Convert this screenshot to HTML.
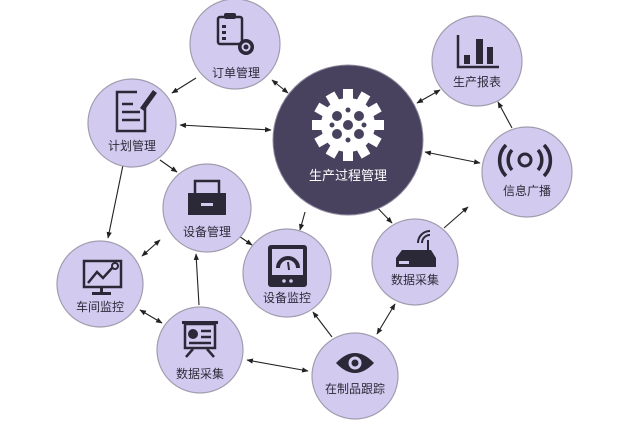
<!DOCTYPE html>
<html><head><meta charset="utf-8"><style>
html,body{margin:0;padding:0;background:#fff;}
svg{display:block;}
text{font-family:"Liberation Sans","Noto Sans CJK SC",sans-serif;font-size:12px;fill:#2e2b3a;text-anchor:middle;}
.n{fill:#d3cbef;stroke:#a19cae;stroke-width:1.2;}
.i{fill:#2b2838;}
.is{fill:none;stroke:#2b2838;stroke-width:2.5;}
.a{stroke:#222;stroke-width:1.1;fill:none;}
</style></head><body>
<svg width="640" height="427" viewBox="0 0 640 427">
<defs>
<marker id="m" viewBox="0 0 10 10" refX="9" refY="5" markerWidth="6" markerHeight="6" orient="auto-start-reverse"><path d="M0,1 L10,5 L0,9 z" fill="#222"/></marker>
</defs>
<!-- connectors -->
<line class="a" x1="196" y1="78" x2="172" y2="93" marker-end="url(#m)"/>
<line class="a" x1="272" y1="80" x2="288" y2="93" marker-start="url(#m)" marker-end="url(#m)"/>
<line class="a" x1="180" y1="125" x2="271" y2="130" marker-start="url(#m)" marker-end="url(#m)"/>
<line class="a" x1="160" y1="160" x2="177" y2="172" marker-end="url(#m)"/>
<line class="a" x1="123" y1="165" x2="108" y2="238" marker-end="url(#m)"/>
<line class="a" x1="233" y1="232" x2="252" y2="245" marker-end="url(#m)"/>
<line class="a" x1="142" y1="256" x2="160" y2="240" marker-start="url(#m)" marker-end="url(#m)"/>
<line class="a" x1="199" y1="305" x2="196" y2="254" marker-end="url(#m)"/>
<line class="a" x1="140" y1="310" x2="162" y2="323" marker-start="url(#m)" marker-end="url(#m)"/>
<line class="a" x1="247" y1="360" x2="308" y2="371" marker-start="url(#m)" marker-end="url(#m)"/>
<line class="a" x1="305" y1="212" x2="300" y2="230" marker-end="url(#m)"/>
<line class="a" x1="332" y1="337" x2="313" y2="312" marker-end="url(#m)"/>
<line class="a" x1="370" y1="200" x2="392" y2="223" marker-start="url(#m)" marker-end="url(#m)"/>
<line class="a" x1="377" y1="334" x2="395" y2="304" marker-start="url(#m)" marker-end="url(#m)"/>
<line class="a" x1="444" y1="228" x2="468" y2="207" marker-end="url(#m)"/>
<line class="a" x1="425" y1="152" x2="480" y2="163" marker-start="url(#m)" marker-end="url(#m)"/>
<line class="a" x1="417" y1="103" x2="440" y2="90" marker-start="url(#m)" marker-end="url(#m)"/>
<line class="a" x1="512" y1="128" x2="498" y2="102" marker-end="url(#m)"/>

<!-- center -->
<circle cx="348" cy="140" r="75" fill="#48425f" stroke="#8f8aa0" stroke-width="1"/>
<g transform="translate(348,125)">
<g fill="#fff">
<circle r="27"/>
<g id="t"><rect x="-5" y="-36" width="10" height="12"/></g>
<use href="#t" transform="rotate(30)"/><use href="#t" transform="rotate(60)"/><use href="#t" transform="rotate(90)"/><use href="#t" transform="rotate(120)"/><use href="#t" transform="rotate(150)"/><use href="#t" transform="rotate(180)"/><use href="#t" transform="rotate(210)"/><use href="#t" transform="rotate(240)"/><use href="#t" transform="rotate(270)"/><use href="#t" transform="rotate(300)"/><use href="#t" transform="rotate(330)"/>
</g>
<g fill="#48425f"><circle r="5"/><circle cx="-11" cy="-9" r="5"/><circle cx="11" cy="-9" r="5"/><circle cx="-11" cy="9" r="5"/><circle cx="11" cy="9" r="5"/><circle cx="0" cy="-15" r="2.5"/><circle cx="0" cy="15" r="2.5"/><circle cx="-16" cy="0" r="2.5"/><circle cx="16" cy="0" r="2.5"/></g>
</g>
<text x="348" y="180" style="fill:#fff;font-size:13px;">生产过程管理</text>

<!-- 订单管理 -->
<circle class="n" cx="235" cy="44" r="45"/>
<rect class="is" x="218" y="17" width="24" height="27" rx="2"/>
<rect class="i" x="224" y="13" width="12" height="6" rx="2"/>
<rect class="i" x="222" y="25" width="4" height="3"/><rect class="i" x="222" y="31" width="4" height="3"/><rect class="i" x="222" y="37" width="4" height="3"/>
<circle cx="246" cy="47" r="8" fill="#2b2838"/><circle cx="246" cy="47" r="3.5" fill="none" stroke="#d3cbef" stroke-width="2"/>
<text x="236" y="77">订单管理</text>

<!-- 计划管理 -->
<circle class="n" cx="132" cy="123" r="44"/>
<path class="is" d="M137 92 H117 V131 H145 V105"/>
<line class="is" x1="122" y1="104" x2="133" y2="104"/><line class="is" x1="122" y1="112" x2="140" y2="112"/><line class="is" x1="122" y1="120" x2="140" y2="120"/>
<path d="M140 108 L153 90 L157 93 L144 111 Z" class="i"/>
<text x="132" y="150">计划管理</text>

<!-- 设备管理 -->
<circle class="n" cx="207" cy="208" r="44"/>
<path class="is" d="M195 193 V181 H219 V193"/>
<rect class="i" x="188" y="193" width="38" height="22"/>
<rect x="201" y="203" width="12" height="3" fill="#d3cbef"/>
<text x="207" y="236">设备管理</text>

<!-- 车间监控 -->
<circle class="n" cx="100" cy="284" r="43"/>
<rect class="is" x="84" y="261" width="37" height="26"/>
<path class="is" d="M88 283 L97 272 L103 278 L113 267"/>
<circle cx="115" cy="266" r="3" fill="none" stroke="#2b2838" stroke-width="2"/>
<rect class="i" x="100" y="287" width="3" height="6"/><rect class="i" x="92" y="292" width="19" height="3"/>
<text x="100" y="311">车间监控</text>

<!-- 数据采集 左 -->
<circle class="n" cx="200" cy="350" r="43"/>
<rect class="i" x="182" y="321" width="36" height="3"/>
<rect class="is" x="185" y="324" width="30" height="24"/>
<circle cx="193" cy="334" r="5" class="i"/>
<line class="is" x1="201" y1="331" x2="211" y2="331" stroke-width="2"/><line class="is" x1="201" y1="337" x2="211" y2="337" stroke-width="2"/><line class="is" x1="189" y1="343" x2="211" y2="343" stroke-width="2"/>
<path class="is" d="M193 349 L186 357 M207 349 L214 357" stroke-width="2"/>
<text x="200" y="378">数据采集</text>

<!-- 设备监控 -->
<circle class="n" cx="287" cy="273" r="44"/>
<rect class="i" x="268" y="245" width="39" height="42" rx="3"/>
<rect x="272" y="249" width="31" height="26" fill="#d3cbef"/>
<path d="M278 268 A10 10 0 0 1 298 268" fill="none" stroke="#2b2838" stroke-width="4"/>
<line x1="288" y1="262" x2="289" y2="270" stroke="#2b2838" stroke-width="2"/>
<circle cx="284" cy="281" r="1.8" fill="#d3cbef"/><circle cx="291" cy="281" r="1.8" fill="#d3cbef"/>
<text x="287" y="302">设备监控</text>

<!-- 在制品跟踪 -->
<circle class="n" cx="355" cy="376" r="43"/>
<path d="M336 363 Q355 343 374 363 Q355 383 336 363 Z" class="i"/>
<circle cx="355" cy="363" r="6.5" fill="#d3cbef"/><circle cx="355" cy="363" r="3.5" class="i"/>
<text x="355" y="393">在制品跟踪</text>

<!-- 数据采集 右 -->
<circle class="n" cx="415" cy="262" r="43"/>
<path d="M396 258 L402 250 H431 L436 258 Z" class="i"/>
<rect class="i" x="396" y="258" width="40" height="9"/>
<rect x="399" y="261" width="10" height="3" fill="#d3cbef"/>
<line x1="428" y1="250" x2="428" y2="240" stroke="#2b2838" stroke-width="2"/>
<path d="M422 243 A8 8 0 0 1 430 235 M418 243 A12 12 0 0 1 430 231" fill="none" stroke="#2b2838" stroke-width="2"/>
<text x="415" y="284">数据采集</text>

<!-- 信息广播 -->
<circle class="n" cx="527" cy="172" r="45"/>
<circle cx="525" cy="160" r="6" fill="none" stroke="#2b2838" stroke-width="3"/>
<path d="M512 150 A15 15 0 0 0 512 170 M538 150 A15 15 0 0 1 538 170" fill="none" stroke="#2b2838" stroke-width="3.5"/>
<path d="M506 145 A22 22 0 0 0 506 176 M544 145 A22 22 0 0 1 544 176" fill="none" stroke="#2b2838" stroke-width="3.5"/>
<text x="527" y="195">信息广播</text>

<!-- 生产报表 -->
<circle class="n" cx="477" cy="61" r="45"/>
<path class="is" d="M458 35 V67 H499" stroke-width="3"/>
<rect class="i" x="464" y="55" width="6" height="9"/><rect class="i" x="476" y="39" width="7" height="25"/><rect class="i" x="487" y="47" width="6" height="17"/>
<text x="477" y="86">生产报表</text>
</svg>
</body></html>
